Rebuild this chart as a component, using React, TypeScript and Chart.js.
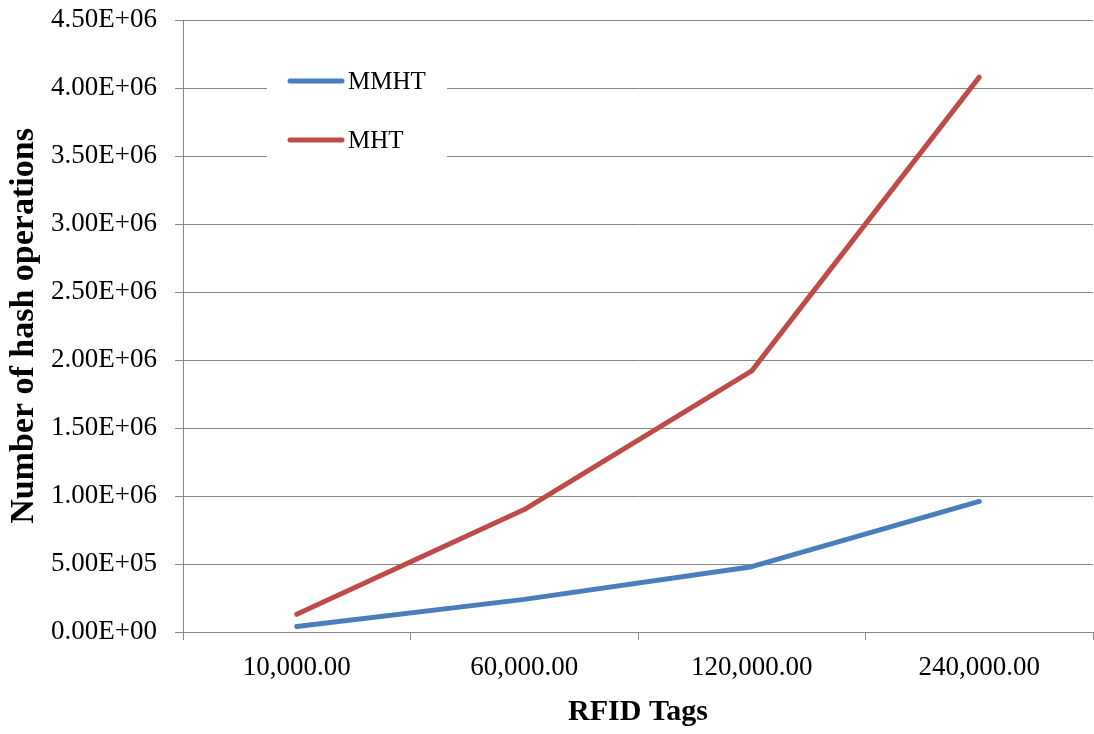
import React, { useEffect, useRef } from "react";
import { Chart, registerables } from "chart.js";

Chart.register(...registerables);

const categories = ["10,000.00", "60,000.00", "120,000.00", "240,000.00"];
const mmhtValues = [40000, 240000, 480000, 960000];
const mhtValues = [130000, 900000, 1920000, 4080000];
const seriesNames = ["MMHT", "MHT"];
const seriesColors = ["#4A7EBB", "#BE4B48"];
const yTitle = "Number of hash operations";
const xTitle = "RFID Tags";

const FONT = "'Liberation Serif', 'Times New Roman', serif";
const GRID = "#868686";

function sci(v: number): string {
  if (v === 0) return "0.00E+00";
  const exp = Math.floor(Math.log10(Math.abs(v)));
  const mant = v / Math.pow(10, exp);
  const sign = exp < 0 ? "-" : "+";
  const e = String(Math.abs(exp)).padStart(2, "0");
  return mant.toFixed(2) + "E" + sign + e;
}

const legendPlugin = {
  id: "insideLegend",
  afterDatasetsDraw(chart: any) {
    const ctx = chart.ctx;
    ctx.save();
    ctx.fillStyle = "#ffffff";
    ctx.fillRect(267, 60, 180, 115);
    const rows = [81, 140];
    chart.data.datasets.forEach((ds: any, i: number) => {
      const y = rows[i];
      ctx.strokeStyle = ds.borderColor;
      ctx.lineWidth = 5;
      ctx.lineCap = "round";
      ctx.beginPath();
      ctx.moveTo(290, y);
      ctx.lineTo(342, y);
      ctx.stroke();
      ctx.fillStyle = "#000000";
      ctx.font = "25px " + FONT;
      ctx.textBaseline = "middle";
      ctx.textAlign = "left";
      ctx.fillText(ds.label, 348, y + 1);
    });
    ctx.restore();
  },
};

export default function App() {
  const ref = useRef<HTMLCanvasElement | null>(null);
  useEffect(() => {
    if (!ref.current) return;
    const chart = new Chart(ref.current, {
      type: "line",
      data: {
        labels: categories,
        datasets: [
          {
            label: seriesNames[0],
            data: mmhtValues,
            borderColor: seriesColors[0],
            backgroundColor: seriesColors[0],
            borderWidth: 5,
            pointRadius: 0,
            tension: 0,
            borderCapStyle: "round",
            borderJoinStyle: "round",
          },
          {
            label: seriesNames[1],
            data: mhtValues,
            borderColor: seriesColors[1],
            backgroundColor: seriesColors[1],
            borderWidth: 5,
            pointRadius: 0,
            tension: 0,
            borderCapStyle: "round",
            borderJoinStyle: "round",
          },
        ],
      },
      options: {
        animation: false,
        responsive: false,
        maintainAspectRatio: false,
        layout: { padding: { top: 20, right: 1, left: 0, bottom: 0 } },
        plugins: {
          legend: { display: false },
          tooltip: { enabled: false },
        },
        scales: {
          x: {
            offset: true,
            grid: {
              offset: true,
              drawOnChartArea: false,
              drawTicks: true,
              tickLength: 8,
              color: GRID,
              lineWidth: 1,
            },
            border: { color: GRID, width: 1 },
            ticks: {
              color: "#000000",
              font: { family: FONT, size: 27 },
              padding: 12,
              maxRotation: 0,
            },
            title: {
              display: true,
              text: xTitle,
              color: "#000000",
              font: { family: FONT, size: 30, weight: "bold" },
              padding: { top: 0, bottom: 4 },
            },
            afterFit: (scale: any) => {
              scale.height = 102;
              scale.paddingLeft = 0;
              scale.paddingRight = 0;
            },
          },
          y: {
            min: 0,
            max: 4500000,
            ticks: {
              stepSize: 500000,
              color: "#000000",
              font: { family: FONT, size: 27 },
              padding: 18,
              callback: (v: any) => sci(Number(v)),
            },
            grid: {
              color: GRID,
              lineWidth: 1,
              tickLength: 8,
            },
            border: { color: GRID, width: 1 },
            title: {
              display: true,
              text: yTitle,
              color: "#000000",
              font: { family: FONT, size: 34, weight: "bold" },
              padding: { top: 4, bottom: 0 },
            },
            afterFit: (scale: any) => {
              scale.width = 183;
              scale.paddingTop = 0;
              scale.paddingBottom = 0;
            },
          },
        },
      },
      plugins: [legendPlugin],
    } as any);
    return () => chart.destroy();
  }, []);
  return (
    <div style={{ position: "fixed", left: 0, top: 0, width: 1094, height: 734, background: "#fff" }}>
      <canvas ref={ref} width={1094} height={734} style={{ width: 1094, height: 734, display: "block" }} />
    </div>
  );
}
